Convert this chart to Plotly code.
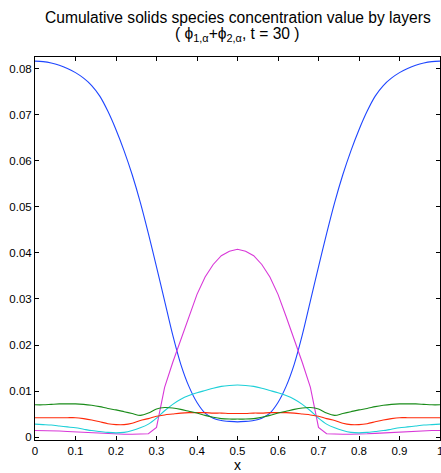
import plotly.graph_objects as go

x_vals = [round(i * 0.02, 2) for i in range(51)]

blue_vals = [0.0817, 0.0816, 0.0813, 0.0808, 0.0801, 0.0792, 0.0780, 0.0764, 0.0741, 0.0708,
             0.0668, 0.0622, 0.0570, 0.0510, 0.0442, 0.0370, 0.0296, 0.0222, 0.0158, 0.0110,
             0.0075, 0.0052, 0.0041, 0.0036, 0.0034, 0.0033, 0.0034, 0.0036, 0.0041, 0.0052,
             0.0075, 0.0110, 0.0158, 0.0222, 0.0296, 0.0370, 0.0442, 0.0510, 0.0570, 0.0622,
             0.0668, 0.0708, 0.0741, 0.0764, 0.0780, 0.0792, 0.0801, 0.0808, 0.0813, 0.0816, 0.0817]

magenta_vals = [0.0014, 0.0014, 0.0013, 0.0013, 0.0012, 0.0011, 0.0010, 0.0009, 0.0008, 0.0007,
                0.0006, 0.0006, 0.0006, 0.0006, 0.0007, 0.0021, 0.0108, 0.0162, 0.0213, 0.0262,
                0.0310, 0.0348, 0.0375, 0.0394, 0.0404, 0.0408, 0.0404, 0.0394, 0.0375, 0.0348,
                0.0310, 0.0262, 0.0213, 0.0162, 0.0108, 0.0021, 0.0007, 0.0006, 0.0006, 0.0006,
                0.0006, 0.0007, 0.0008, 0.0009, 0.0010, 0.0011, 0.0012, 0.0013, 0.0013, 0.0014, 0.0014]

green_vals = [0.0070, 0.0070, 0.0071, 0.0072, 0.0072, 0.0072, 0.0071, 0.0069, 0.0066, 0.0062,
              0.0059, 0.0055, 0.0051, 0.0047, 0.0052, 0.0061, 0.0064, 0.0063, 0.0060, 0.0056,
              0.0052, 0.0047, 0.0043, 0.0040, 0.0039, 0.0039, 0.0039, 0.0040, 0.0043, 0.0047,
              0.0052, 0.0056, 0.0060, 0.0063, 0.0064, 0.0061, 0.0052, 0.0047, 0.0051, 0.0055,
              0.0059, 0.0062, 0.0066, 0.0069, 0.0071, 0.0072, 0.0072, 0.0072, 0.0071, 0.0070, 0.0070]

red_vals = [0.0042, 0.0042, 0.0042, 0.0042, 0.0042, 0.0042, 0.0040, 0.0037, 0.0033, 0.0029,
            0.0027, 0.0027, 0.0030, 0.0036, 0.0040, 0.0045, 0.0048, 0.0050, 0.0052, 0.0053,
            0.0053, 0.0053, 0.0052, 0.0052, 0.0051, 0.0051, 0.0051, 0.0052, 0.0052, 0.0053,
            0.0053, 0.0053, 0.0052, 0.0050, 0.0048, 0.0045, 0.0040, 0.0036, 0.0030, 0.0027,
            0.0027, 0.0029, 0.0033, 0.0037, 0.0040, 0.0042, 0.0042, 0.0042, 0.0042, 0.0042, 0.0042]

cyan_vals = [0.0028, 0.0027, 0.0026, 0.0024, 0.0022, 0.0020, 0.0017, 0.0014, 0.0012, 0.0010,
             0.0009, 0.0010, 0.0014, 0.0020, 0.0028, 0.0041, 0.0057, 0.0071, 0.0082, 0.0090,
             0.0096, 0.0101, 0.0106, 0.0110, 0.0112, 0.0113, 0.0112, 0.0110, 0.0106, 0.0101,
             0.0096, 0.0090, 0.0082, 0.0071, 0.0057, 0.0041, 0.0028, 0.0020, 0.0014, 0.0010,
             0.0009, 0.0010, 0.0012, 0.0014, 0.0017, 0.0020, 0.0022, 0.0024, 0.0026, 0.0027, 0.0028]

x_ticks = [0, 0.1, 0.2, 0.3, 0.4, 0.5, 0.6, 0.7, 0.8, 0.9, 1]
x_tick_labels = ["0", "0.1", "0.2", "0.3", "0.4", "0.5", "0.6", "0.7", "0.8", "0.9", "1"]
y_ticks = [0, 0.01, 0.02, 0.03, 0.04, 0.05, 0.06, 0.07, 0.08]
y_tick_labels = ["0", "0.01", "0.02", "0.03", "0.04", "0.05", "0.06", "0.07", "0.08"]

# (values, colour, line shape)
series = [
    (blue_vals, "#1e46ff", "spline"),
    (magenta_vals, "#d838d8", "linear"),
    (cyan_vals, "#1ed0d8", "spline"),
    (red_vals, "#ff2a0a", "spline"),
    (green_vals, "#1a8c1a", "spline"),
]

fig = go.Figure()
for vals, col, shape in series:
    line = dict(color=col, width=1.1, shape=shape)
    if shape == "spline":
        line["smoothing"] = 0.8
    fig.add_trace(go.Scatter(x=x_vals, y=vals, mode="lines", line=line,
                             showlegend=False, cliponaxis=True))

font_main = "Liberation Sans, Arial, Helvetica, sans-serif"

fig.update_layout(
    width=441, height=473,
    margin=dict(l=35, r=1, t=57, b=33),
    paper_bgcolor="white", plot_bgcolor="white",
    font=dict(family=font_main, size=11, color="black"),
    showlegend=False,
)
fig.update_xaxes(
    range=[0, 1], tickvals=x_ticks, ticktext=x_tick_labels,
    ticks="inside", ticklen=4, tickwidth=1, tickcolor="black",
    showline=True, linecolor="black", linewidth=1, mirror="ticks",
    showgrid=False, zeroline=False,
    tickfont=dict(size=11.5),
    title=dict(text="x", font=dict(size=14), standoff=6),
)
fig.update_yaxes(
    range=[-0.00065, 0.0826], tickvals=y_ticks, ticktext=y_tick_labels,
    ticks="inside", ticklen=4, tickwidth=1, tickcolor="black",
    showline=True, linecolor="black", linewidth=1, mirror="ticks",
    showgrid=False, zeroline=False,
    tickfont=dict(size=11.5),
)
# right-most tick label, partly cut off at the page edge as in the reference
fig.add_annotation(text=x_tick_labels[-1], xref="x", yref="paper", x=x_ticks[-1], y=0,
                   yshift=-11, showarrow=False, font=dict(size=11.5),
                   xanchor="center", yanchor="middle")
fig.add_annotation(text="Cumulative solids species concentration value by layers",
                   xref="paper", yref="paper", x=0.5, y=1, yshift=40,
                   showarrow=False, font=dict(size=15.6), xanchor="center", yanchor="middle")
fig.add_annotation(text="( ϕ<sub>1,α</sub>+ϕ<sub>2,α</sub>, t = 30 )",
                   xref="paper", yref="paper", x=0.5, y=1, yshift=23,
                   showarrow=False, font=dict(size=15.6), xanchor="center", yanchor="middle")

fig.write_html("out.html")
